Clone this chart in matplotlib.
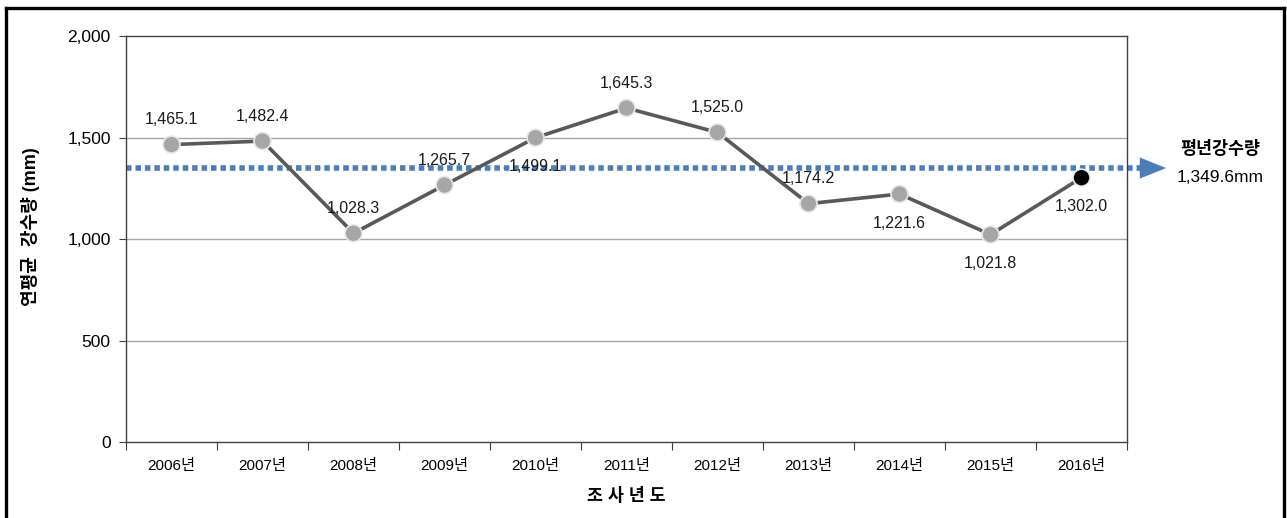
import matplotlib
matplotlib.use("Agg")
import matplotlib.pyplot as plt
from matplotlib.lines import Line2D

plt.rcParams['font.family'] = ['Liberation Sans', 'Noto Sans CJK KR', 'DejaVu Sans']

years = ["2006년", "2007년", "2008년", "2009년", "2010년", "2011년",
         "2012년", "2013년", "2014년", "2015년", "2016년"]
rainfall = [1465.1, 1482.4, 1028.3, 1265.7, 1499.1, 1645.3,
            1525.0, 1174.2, 1221.6, 1021.8, 1302.0]
label_pos = ["above", "above", "above", "above", "below", "above",
             "above", "above", "below", "below", "below"]
normal_rainfall = 1349.6
y_ticks = [0, 500, 1000, 1500, 2000]

fig = plt.figure(figsize=(12.87, 5.18), dpi=100)
ax = fig.add_axes([0.0979, 0.1467, 0.7778, 0.7838])

x = list(range(len(years)))
ax.set_xlim(-0.5, len(years) - 0.5)
ax.set_ylim(0, 2000)

for yv in y_ticks[1:-1]:
    ax.axhline(yv, color='#a6a6a6', lw=1.0, zorder=1)

# normal-rainfall dotted arrow
ax.plot([-0.5, 10.64], [normal_rainfall, normal_rainfall], color='#4a7ebb',
        lw=4, linestyle=(0, (1.0, 0.7)), solid_capstyle='butt', clip_on=False, zorder=2)
ax.annotate('', xy=(10.93, normal_rainfall), xytext=(10.64, normal_rainfall),
            xycoords='data', textcoords='data',
            arrowprops=dict(arrowstyle='-|>,head_length=0.95,head_width=0.38',
                            mutation_scale=20, color='#4a7ebb', lw=0,
                            shrinkA=0, shrinkB=0),
            annotation_clip=False, zorder=2)

ax.plot(x, rainfall, color='#595959', lw=2.6, zorder=3)
colors = ['#a6a6a6'] * (len(years) - 1) + ['#000000']
ax.scatter(x, rainfall, s=150, c=colors, edgecolors='#e8e8e8', linewidths=1.2, zorder=4)

for xi, v, pos in zip(x, rainfall, label_pos):
    off = 18 if pos == "above" else -21
    ax.annotate(f"{v:,.1f}", xy=(xi, v), xytext=(0, off),
                textcoords='offset points', ha='center', va='center',
                fontsize=11.5, color='#1a1a1a', zorder=5)

ax.set_yticks(y_ticks)
ax.set_yticklabels([f"{t:,}" for t in y_ticks], fontsize=12.5)
ax.set_xticks([i - 0.5 for i in range(len(years) + 1)])
ax.set_xticklabels([])
ax.set_xticks(x, minor=True)
ax.set_xticklabels(years, minor=True, fontsize=11)
ax.tick_params(axis='x', which='minor', length=0, pad=12)
ax.tick_params(axis='x', which='major', length=6, color='#404040')
ax.tick_params(axis='y', length=5, color='#404040', pad=6)

for s in ax.spines.values():
    s.set_color('#404040')
    s.set_linewidth(1.0)

ax.set_ylabel("연평균  강수량 (mm)", fontsize=13, fontweight='bold')
ax.yaxis.set_label_coords(-0.086, 0.53)
ax.set_xlabel("조 사 년 도", fontsize=12.5, fontweight='bold', labelpad=10)

fig.text(1220 / 1287, 1 - 148 / 518, "평년강수량", ha='center', va='center',
         fontsize=12.5, fontweight='bold')
fig.text(1220 / 1287, 1 - 178 / 518, f"{normal_rainfall:,.1f}mm", ha='center', va='center',
         fontsize=12.5)

# figure frame (top, left, right)
W, H = 1287, 518
fig.add_artist(Line2D([6 / W, 1284 / W], [1 - 8 / H, 1 - 8 / H], color='black', lw=2.4,
                      transform=fig.transFigure))
fig.add_artist(Line2D([6 / W, 6 / W], [0, 1 - 8 / H], color='black', lw=2.4,
                      transform=fig.transFigure))
fig.add_artist(Line2D([1284 / W, 1284 / W], [0, 1 - 8 / H], color='black', lw=2.4,
                      transform=fig.transFigure))

fig.savefig("out.png", dpi=100)
